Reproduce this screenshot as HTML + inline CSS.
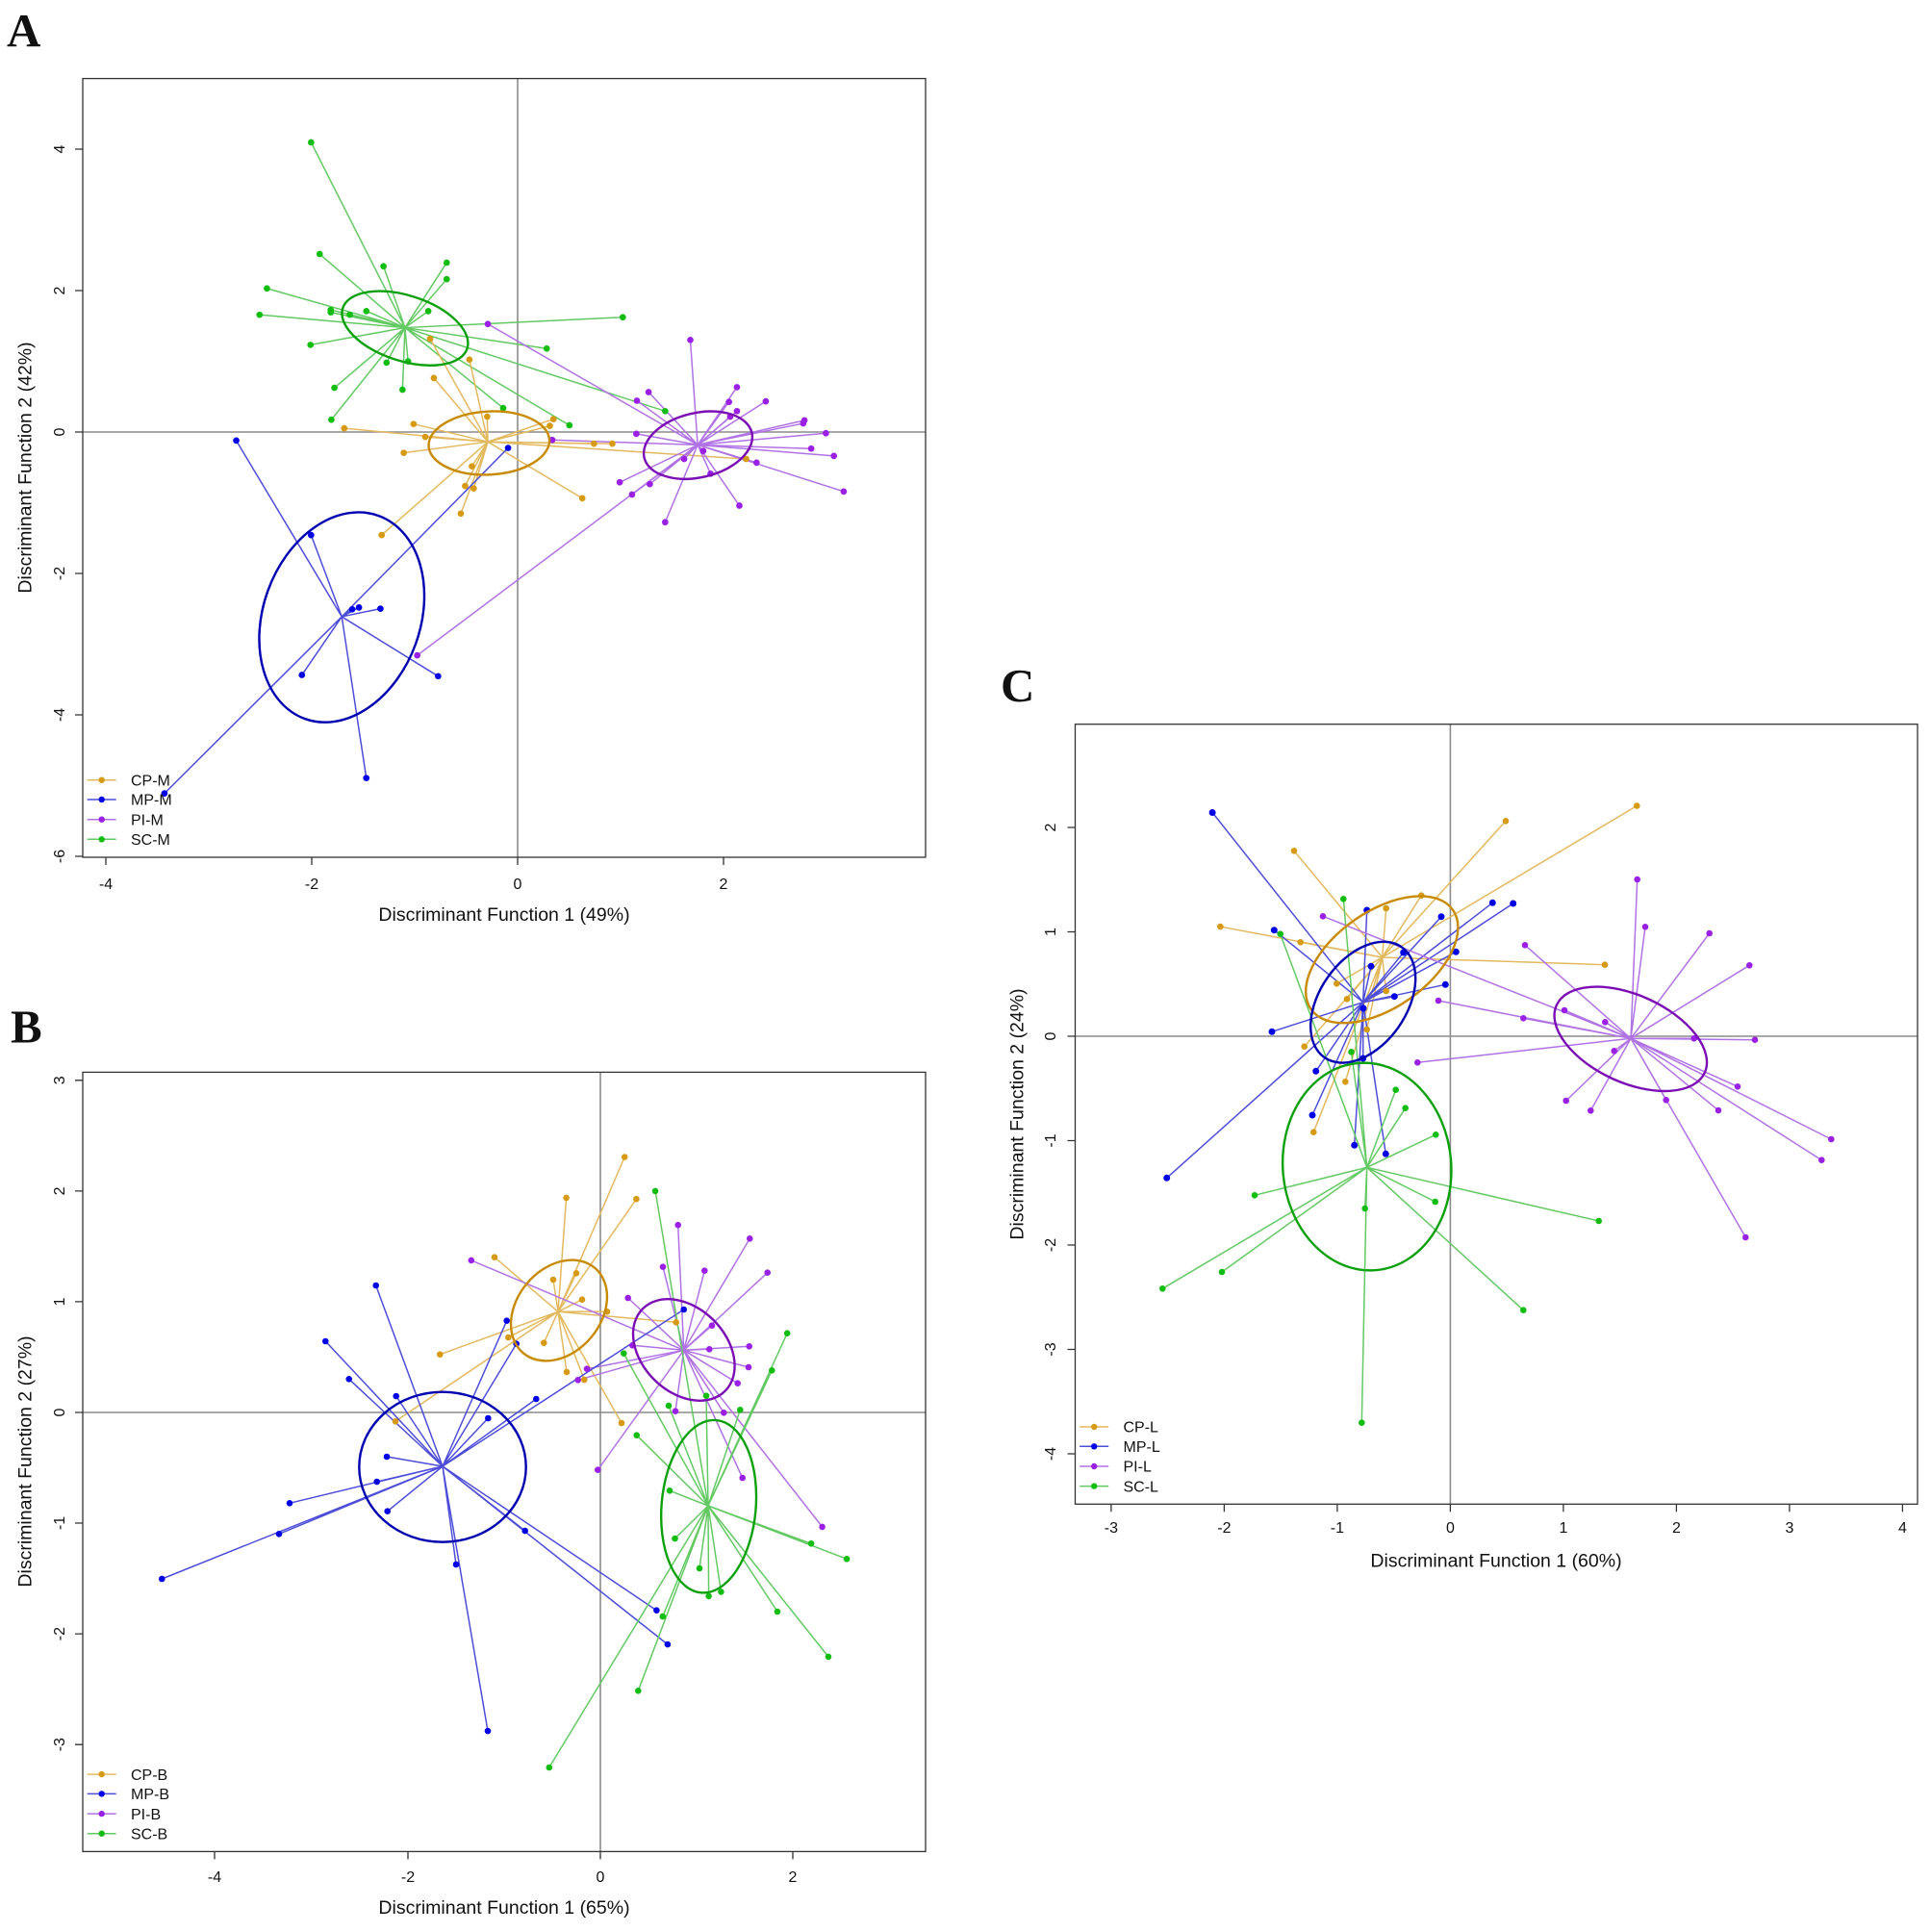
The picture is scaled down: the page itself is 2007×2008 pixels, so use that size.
<!DOCTYPE html>
<html><head><meta charset="utf-8"><style>
html,body{margin:0;padding:0;background:#fff;}
svg{display:block;}
text{font-family:"Liberation Sans",Arial,sans-serif;fill:#111;}
.pl{font-family:"Liberation Serif","Times New Roman",serif;font-weight:bold;font-size:49px;}
.tk{font-size:16px;}
.ti{font-size:19.5px;}
.lg{font-size:16px;}
</style></head><body>
<svg width="2007" height="2008" viewBox="0 0 2007 2008" xmlns="http://www.w3.org/2000/svg">
<rect width="2007" height="2008" fill="#fff"/>

<!-- ================= PANEL A ================= -->
<text class="pl" x="7" y="48">A</text>
<line x1="538" y1="81.6" x2="538" y2="891" stroke="#8c8c8c" stroke-width="1.6"/>
<line x1="86" y1="449" x2="962" y2="449" stroke="#8c8c8c" stroke-width="1.6"/>
<g transform="scale(0.637755)" fill="none">
<path stroke="#63c963" stroke-width="2.35" d="M660 534L507 232M660 534L521 414M660 534L625 434M660 534L728 428M660 534L728 455M660 534L435 470M660 534L423 513M660 534L539 505M660 534L539 509M660 534L570 513M660 534L597 507M660 534L698 507M660 534L1015 517M660 534L506 562M660 534L630 591M660 534L665 589M660 534L891 568M660 534L545 632M660 534L656 635M660 534L820 665M660 534L540 684M660 534L928 693M660 534L1084 670"/>
<path stroke="#e3b95f" stroke-width="2.35" d="M795 720L701 552M795 720L765 586M795 720L707 616M795 720L794 679M795 720L674 691M795 720L561 698M795 720L693 712M795 720L658 738M795 720L902 683M795 720L896 694M795 720L968 723M795 720L998 723M795 720L769 760M795 720L758 792M795 720L772 796M795 720L751 837M795 720L949 812M795 720L622 872M795 720L1216 748"/>
<path stroke="#4d4dd8" stroke-width="2.35" d="M557 1005L385 718M557 1005L507 872M557 1005L574 993M557 1005L585 990M557 1005L620 992M557 1005L492 1100M557 1005L714 1102M557 1005L597 1268M557 1005L268 1293M557 1005L828 730"/>
<path stroke="#b072e4" stroke-width="2.35" d="M1137 725L795 528M1137 725L680 1068M1137 725L900 717M1137 725L1125 554M1137 725L1201 631M1137 725L1057 639M1137 725L1038 653M1137 725L1188 655M1137 725L1248 654M1137 725L1201 670M1137 725L1190 679M1137 725L1311 685M1137 725L1309 690M1137 725L1346 706M1137 725L1037 707M1137 725L1322 731M1137 725L1359 743M1137 725L1146 735M1137 725L1115 748M1137 725L1233 754M1137 725L1158 772M1137 725L1010 786M1137 725L1059 789M1137 725L1030 806M1137 725L1375 801M1137 725L1205 824M1137 725L1084 851"/>
<path stroke="#12bd12" stroke-width="10.5" stroke-linecap="round" d="M507 232h0M521 414h0M625 434h0M728 428h0M728 455h0M435 470h0M423 513h0M539 505h0M539 509h0M570 513h0M597 507h0M698 507h0M1015 517h0M506 562h0M630 591h0M665 589h0M891 568h0M545 632h0M656 635h0M820 665h0M540 684h0M928 693h0M1084 670h0"/>
<path stroke="#d69a14" stroke-width="10.5" stroke-linecap="round" d="M701 552h0M765 586h0M707 616h0M794 679h0M674 691h0M561 698h0M693 712h0M658 738h0M902 683h0M896 694h0M968 723h0M998 723h0M769 760h0M758 792h0M772 796h0M751 837h0M949 812h0M622 872h0M1216 748h0"/>
<path stroke="#0000e4" stroke-width="10.5" stroke-linecap="round" d="M385 718h0M507 872h0M574 993h0M585 990h0M620 992h0M492 1100h0M714 1102h0M597 1268h0M268 1293h0M828 730h0"/>
<path stroke="#9a20e6" stroke-width="10.5" stroke-linecap="round" d="M795 528h0M680 1068h0M900 717h0M1125 554h0M1201 631h0M1057 639h0M1038 653h0M1188 655h0M1248 654h0M1201 670h0M1190 679h0M1311 685h0M1309 690h0M1346 706h0M1037 707h0M1322 731h0M1359 743h0M1146 735h0M1115 748h0M1233 754h0M1158 772h0M1010 786h0M1059 789h0M1030 806h0M1375 801h0M1205 824h0M1084 851h0"/>
<ellipse cx="0" cy="0" rx="106.6" ry="53.3" transform="translate(660 535) rotate(18)" stroke="#0ca00c" stroke-width="3.8"/>
<ellipse cx="0" cy="0" rx="98.5" ry="51.5" transform="translate(797 722) rotate(-3)" stroke="#c88a00" stroke-width="3.8"/>
<ellipse cx="0" cy="0" rx="176" ry="128" transform="translate(557 1006) rotate(-70)" stroke="#0000b0" stroke-width="3.8"/>
<ellipse cx="0" cy="0" rx="90" ry="52.5" transform="translate(1137.6 725.5) rotate(-13)" stroke="#7b0db5" stroke-width="3.8"/>
</g>
<rect x="86" y="81.6" width="876" height="809.4" fill="none" stroke="#333" stroke-width="1.3"/>
<path stroke="#333" stroke-width="1.3" d="M110 891V899M324 891V899M538 891V899M752 891V899M78 155H86M78 302H86M78 449H86M78 596H86M78 743H86M78 890H86"/>
<g class="tk" text-anchor="middle">
<text x="110" y="924">-4</text><text x="324" y="924">-2</text><text x="538" y="924">0</text><text x="752" y="924">2</text>
<text transform="translate(67 155) rotate(-90)">4</text>
<text transform="translate(67 302) rotate(-90)">2</text>
<text transform="translate(67 449) rotate(-90)">0</text>
<text transform="translate(67 596) rotate(-90)">-2</text>
<text transform="translate(67 743) rotate(-90)">-4</text>
<text transform="translate(67 890) rotate(-90)">-6</text>
</g>
<text class="ti" x="524" y="957" text-anchor="middle">Discriminant Function 1 (49%)</text>
<text class="ti" text-anchor="middle" transform="translate(32.5 486) rotate(-90)">Discriminant Function 2 (42%)</text>
<g>
<line x1="90.7" y1="810.7" x2="120.7" y2="810.7" stroke="#e3b95f" stroke-width="1.5"/><circle cx="105.7" cy="810.7" r="3.2" fill="#d69a14"/>
<line x1="90.7" y1="831" x2="120.7" y2="831" stroke="#4d4dd8" stroke-width="1.5"/><circle cx="105.7" cy="831" r="3.2" fill="#0000e4"/>
<line x1="90.7" y1="851.7" x2="120.7" y2="851.7" stroke="#b072e4" stroke-width="1.5"/><circle cx="105.7" cy="851.7" r="3.2" fill="#9a20e6"/>
<line x1="90.7" y1="872.3" x2="120.7" y2="872.3" stroke="#63c963" stroke-width="1.5"/><circle cx="105.7" cy="872.3" r="3.2" fill="#12bd12"/>
<text class="lg" x="136" y="816.4">CP-M</text>
<text class="lg" x="136" y="836.7">MP-M</text>
<text class="lg" x="136" y="857.4">PI-M</text>
<text class="lg" x="136" y="878">SC-M</text>
</g>

<!-- ================= PANEL B ================= -->
<text class="pl" x="11" y="1083.5">B</text>
<line x1="624" y1="1114.4" x2="624" y2="1924.4" stroke="#8c8c8c" stroke-width="1.6"/>
<line x1="86" y1="1468" x2="962" y2="1468" stroke="#8c8c8c" stroke-width="1.6"/>
<g fill="none">
<path stroke="#e3b95f" stroke-width="1.5" d="M580 1363.3L514 1306.7M580 1363.3L575 1330M580 1363.3L599 1323.3M580 1363.3L605 1350.7M580 1363.3L631 1363.3M580 1363.3L702.7 1374.3M580 1363.3L528.3 1390M580 1363.3L565.3 1395.7M580 1363.3L589 1426M580 1363.3L607.3 1434M580 1363.3L646 1479M580 1363.3L457.3 1407.7M580 1363.3L411 1477.3M580 1363.3L649.2 1202.5M580 1363.3L588.6 1244.9M580 1363.3L661.4 1246.2"/>
<path stroke="#b072e4" stroke-width="1.5" d="M710.7 1403.3L779.3 1287.3M710.7 1403.3L689 1316.7M710.7 1403.3L732.3 1320.7M710.7 1403.3L797.7 1322.7M710.7 1403.3L652.7 1349M710.7 1403.3L740 1377.7M710.7 1403.3L737.3 1402.3M710.7 1403.3L778.7 1399.3M710.7 1403.3L778 1421M710.7 1403.3L766.7 1437.7M710.7 1403.3L657.3 1398.3M710.7 1403.3L610 1422.7M710.7 1403.3L600.7 1434.3M710.7 1403.3L702 1466.7M710.7 1403.3L752.3 1468.3M710.7 1403.3L771.7 1536M710.7 1403.3L621.3 1527.7M710.7 1403.3L489.8 1309.9M710.7 1403.3L704.7 1273.2M710.7 1403.3L854.6 1586.9"/>
<path stroke="#4d4dd8" stroke-width="1.5" d="M460 1524L390.7 1336M460 1524L338.3 1394M460 1524L362.7 1433.3M460 1524L411.7 1451M460 1524L526.7 1372.7M460 1524L536.7 1396.7M460 1524L507.3 1474M460 1524L557.3 1454M460 1524L402 1514M460 1524L391.7 1540M460 1524L301 1562.3M460 1524L290 1594.3M460 1524L168.3 1641M460 1524L402.7 1570.7M460 1524L474 1626M460 1524L545.7 1591M460 1524L710.7 1361M460 1524L507 1799.1M460 1524L682.4 1673.7M460 1524L693.9 1709.1"/>
<path stroke="#63c963" stroke-width="1.5" d="M736 1565L648.3 1406.7M736 1565L734 1450.7M736 1565L695 1461M736 1565L769.3 1465.3M736 1565L661.7 1491.7M736 1565L696 1549.3M736 1565L681.1 1237.9M736 1565L818.2 1385.7M736 1565L802.3 1424.3M736 1565L701.5 1599.1M736 1565L843.1 1604.3M736 1565L880.1 1620.3M736 1565L727 1630M736 1565L736.6 1658.9M736 1565L749.4 1654.4M736 1565L808 1675M736 1565L688.8 1680.1M736 1565L861 1721.9M736 1565L663.3 1757.3M736 1565L570.8 1837"/>
<path stroke="#d69a14" stroke-width="6.6" stroke-linecap="round" d="M514 1306.7h0M575 1330h0M599 1323.3h0M605 1350.7h0M631 1363.3h0M702.7 1374.3h0M528.3 1390h0M565.3 1395.7h0M589 1426h0M607.3 1434h0M646 1479h0M457.3 1407.7h0M411 1477.3h0M649.2 1202.5h0M588.6 1244.9h0M661.4 1246.2h0"/>
<path stroke="#9a20e6" stroke-width="6.6" stroke-linecap="round" d="M779.3 1287.3h0M689 1316.7h0M732.3 1320.7h0M797.7 1322.7h0M652.7 1349h0M740 1377.7h0M737.3 1402.3h0M778.7 1399.3h0M778 1421h0M766.7 1437.7h0M657.3 1398.3h0M610 1422.7h0M600.7 1434.3h0M702 1466.7h0M752.3 1468.3h0M771.7 1536h0M621.3 1527.7h0M489.8 1309.9h0M704.7 1273.2h0M854.6 1586.9h0"/>
<path stroke="#0000e4" stroke-width="6.6" stroke-linecap="round" d="M390.7 1336h0M338.3 1394h0M362.7 1433.3h0M411.7 1451h0M526.7 1372.7h0M536.7 1396.7h0M507.3 1474h0M557.3 1454h0M402 1514h0M391.7 1540h0M301 1562.3h0M290 1594.3h0M168.3 1641h0M402.7 1570.7h0M474 1626h0M545.7 1591h0M710.7 1361h0M507 1799.1h0M682.4 1673.7h0M693.9 1709.1h0"/>
<path stroke="#12bd12" stroke-width="6.6" stroke-linecap="round" d="M648.3 1406.7h0M734 1450.7h0M695 1461h0M769.3 1465.3h0M661.7 1491.7h0M696 1549.3h0M681.1 1237.9h0M818.2 1385.7h0M802.3 1424.3h0M701.5 1599.1h0M843.1 1604.3h0M880.1 1620.3h0M727 1630h0M736.6 1658.9h0M749.4 1654.4h0M808 1675h0M688.8 1680.1h0M861 1721.9h0M663.3 1757.3h0M570.8 1837h0"/>
<ellipse cx="0" cy="0" rx="57.8" ry="43.6" transform="translate(581 1362) rotate(-50)" stroke="#c88a00" stroke-width="2.4"/>
<ellipse cx="0" cy="0" rx="60.5" ry="43.7" transform="translate(710.8 1403) rotate(45)" stroke="#7b0db5" stroke-width="2.4"/>
<ellipse cx="460" cy="1524.7" rx="86.7" ry="78" stroke="#0000b0" stroke-width="2.4"/>
<ellipse cx="0" cy="0" rx="49" ry="90" transform="translate(736.6 1565.7) rotate(5)" stroke="#0ca00c" stroke-width="2.4"/>
</g>
<rect x="86" y="1114.4" width="876" height="810" fill="none" stroke="#333" stroke-width="1.3"/>
<path stroke="#333" stroke-width="1.3" d="M223 1924.4V1932.4M424 1924.4V1932.4M624 1924.4V1932.4M824 1924.4V1932.4M78 1122.8H86M78 1237.9H86M78 1352.9H86M78 1468H86M78 1583H86M78 1698.1H86M78 1813.2H86"/>
<g class="tk" text-anchor="middle">
<text x="223" y="1956">-4</text><text x="424" y="1956">-2</text><text x="624" y="1956">0</text><text x="824" y="1956">2</text>
<text transform="translate(67 1122.8) rotate(-90)">3</text>
<text transform="translate(67 1237.9) rotate(-90)">2</text>
<text transform="translate(67 1352.9) rotate(-90)">1</text>
<text transform="translate(67 1468) rotate(-90)">0</text>
<text transform="translate(67 1583) rotate(-90)">-1</text>
<text transform="translate(67 1698.1) rotate(-90)">-2</text>
<text transform="translate(67 1813.2) rotate(-90)">-3</text>
</g>
<text class="ti" x="524" y="1989" text-anchor="middle">Discriminant Function 1 (65%)</text>
<text class="ti" text-anchor="middle" transform="translate(32.5 1519) rotate(-90)">Discriminant Function 2 (27%)</text>
<g>
<line x1="90.7" y1="1844.1" x2="120.7" y2="1844.1" stroke="#e3b95f" stroke-width="1.5"/><circle cx="105.7" cy="1844.1" r="3.2" fill="#d69a14"/>
<line x1="90.7" y1="1864.4" x2="120.7" y2="1864.4" stroke="#4d4dd8" stroke-width="1.5"/><circle cx="105.7" cy="1864.4" r="3.2" fill="#0000e4"/>
<line x1="90.7" y1="1885.1" x2="120.7" y2="1885.1" stroke="#b072e4" stroke-width="1.5"/><circle cx="105.7" cy="1885.1" r="3.2" fill="#9a20e6"/>
<line x1="90.7" y1="1905.7" x2="120.7" y2="1905.7" stroke="#63c963" stroke-width="1.5"/><circle cx="105.7" cy="1905.7" r="3.2" fill="#12bd12"/>
<text class="lg" x="136" y="1849.8">CP-B</text>
<text class="lg" x="136" y="1870.1">MP-B</text>
<text class="lg" x="136" y="1890.8">PI-B</text>
<text class="lg" x="136" y="1911.4">SC-B</text>
</g>

<!-- ================= PANEL C ================= -->
<text class="pl" x="1040" y="729">C</text>
<line x1="1507.4" y1="752.7" x2="1507.4" y2="1563.3" stroke="#8c8c8c" stroke-width="1.6"/>
<line x1="1117.5" y1="1077" x2="1993" y2="1077" stroke="#8c8c8c" stroke-width="1.6"/>
<g fill="none">
<path stroke="#e3b95f" stroke-width="1.5" d="M1436.7 995L1565 853.3M1436.7 995L1345 884.3M1436.7 995L1477.3 930.7M1436.7 995L1440.7 944M1436.7 995L1351.7 979.3M1436.7 995L1389.3 1022.3M1436.7 995L1400 1038.3M1436.7 995L1440.7 1030M1436.7 995L1420.7 1070M1436.7 995L1355.7 1087.7M1436.7 995L1701.3 837.5M1436.7 995L1268.4 963.1M1436.7 995L1668 1002.7M1436.7 995L1398.3 1124.3M1436.7 995L1365.3 1176.7"/>
<path stroke="#4d4dd8" stroke-width="1.5" d="M1416.7 1041.7L1260.1 844.5M1416.7 1041.7L1420.7 946M1416.7 1041.7L1498 952.7M1416.7 1041.7L1551.3 938.3M1416.7 1041.7L1572.7 939M1416.7 1041.7L1324.3 966.7M1416.7 1041.7L1458.7 990M1416.7 1041.7L1513.3 989.3M1416.7 1041.7L1425 1004.3M1416.7 1041.7L1502.3 1023.3M1416.7 1041.7L1449.3 1035.7M1416.7 1041.7L1322 1072.3M1416.7 1041.7L1416.7 1100M1416.7 1041.7L1367.7 1113.3M1416.7 1041.7L1364 1159M1416.7 1041.7L1407.7 1190.3M1416.7 1041.7L1440.3 1199.3M1416.7 1041.7L1212.7 1224.3"/>
<path stroke="#63c963" stroke-width="1.5" d="M1420.7 1213.3L1396.3 934.3M1420.7 1213.3L1330.7 970.7M1420.7 1213.3L1404.5 1093.3M1420.7 1213.3L1450.7 1132.7M1420.7 1213.3L1460.7 1151.7M1420.7 1213.3L1492.3 1179.3M1420.7 1213.3L1304 1242.3M1420.7 1213.3L1418.7 1256M1420.7 1213.3L1491.7 1249M1420.7 1213.3L1661.7 1269M1420.7 1213.3L1270 1322M1420.7 1213.3L1208.3 1339.3M1420.7 1213.3L1583.3 1361.7M1420.7 1213.3L1415.3 1478.7"/>
<path stroke="#b072e4" stroke-width="1.5" d="M1695 1079.3L1701.7 914M1695 1079.3L1710 963.3M1695 1079.3L1776.7 970M1695 1079.3L1818.3 1003.3M1695 1079.3L1585 982.3M1695 1079.3L1495 1040M1695 1079.3L1583.3 1058.3M1695 1079.3L1626 1050M1695 1079.3L1668.3 1062.3M1695 1079.3L1760.7 1079.3M1695 1079.3L1824 1080.7M1695 1079.3L1473.3 1104.3M1695 1079.3L1677.7 1092.3M1695 1079.3L1806 1129.3M1695 1079.3L1627.7 1144M1695 1079.3L1653.3 1154.3M1695 1079.3L1731.7 1143.3M1695 1079.3L1786 1154M1695 1079.3L1903.3 1184M1695 1079.3L1893.3 1205.7M1695 1079.3L1814.3 1286M1695 1079.3L1375 952.3"/>
<path stroke="#d69a14" stroke-width="6.6" stroke-linecap="round" d="M1565 853.3h0M1345 884.3h0M1477.3 930.7h0M1440.7 944h0M1351.7 979.3h0M1389.3 1022.3h0M1400 1038.3h0M1440.7 1030h0M1420.7 1070h0M1355.7 1087.7h0M1701.3 837.5h0M1268.4 963.1h0M1668 1002.7h0M1398.3 1124.3h0M1365.3 1176.7h0"/>
<path stroke="#0000e4" stroke-width="7" stroke-linecap="round" d="M1260.1 844.5h0M1420.7 946h0M1498 952.7h0M1551.3 938.3h0M1572.7 939h0M1324.3 966.7h0M1458.7 990h0M1513.3 989.3h0M1425 1004.3h0M1502.3 1023.3h0M1449.3 1035.7h0M1322 1072.3h0M1416.7 1100h0M1367.7 1113.3h0M1364 1159h0M1407.7 1190.3h0M1440.3 1199.3h0M1212.7 1224.3h0M1417 1048h0"/>
<path stroke="#12bd12" stroke-width="6.6" stroke-linecap="round" d="M1396.3 934.3h0M1330.7 970.7h0M1404.5 1093.3h0M1450.7 1132.7h0M1460.7 1151.7h0M1492.3 1179.3h0M1304 1242.3h0M1418.7 1256h0M1491.7 1249h0M1661.7 1269h0M1270 1322h0M1208.3 1339.3h0M1583.3 1361.7h0M1415.3 1478.7h0"/>
<path stroke="#9a20e6" stroke-width="6.6" stroke-linecap="round" d="M1701.7 914h0M1710 963.3h0M1776.7 970h0M1818.3 1003.3h0M1585 982.3h0M1495 1040h0M1583.3 1058.3h0M1626 1050h0M1668.3 1062.3h0M1760.7 1079.3h0M1824 1080.7h0M1473.3 1104.3h0M1677.7 1092.3h0M1806 1129.3h0M1627.7 1144h0M1653.3 1154.3h0M1731.7 1143.3h0M1786 1154h0M1903.3 1184h0M1893.3 1205.7h0M1814.3 1286h0M1375 952.3h0"/>
<ellipse cx="0" cy="0" rx="90" ry="50" transform="translate(1436.3 997.3) rotate(-35)" stroke="#c88a00" stroke-width="2.4"/>
<ellipse cx="0" cy="0" rx="70" ry="45" transform="translate(1416.7 1041.7) rotate(-55)" stroke="#0000b0" stroke-width="2.4"/>
<ellipse cx="0" cy="0" rx="87.5" ry="108" transform="translate(1420.8 1212.5) rotate(-5)" stroke="#0ca00c" stroke-width="2.4"/>
<ellipse cx="0" cy="0" rx="84.6" ry="45.4" transform="translate(1694.8 1079.8) rotate(24.5)" stroke="#7b0db5" stroke-width="2.4"/>
</g>
<rect x="1117.5" y="752.7" width="875.5" height="810.6" fill="none" stroke="#333" stroke-width="1.3"/>
<path stroke="#333" stroke-width="1.3" d="M1154.9 1563.3V1571.3M1272.4 1563.3V1571.3M1389.9 1563.3V1571.3M1507.4 1563.3V1571.3M1624.9 1563.3V1571.3M1742.4 1563.3V1571.3M1859.9 1563.3V1571.3M1977.4 1563.3V1571.3M1109.5 860H1117.5M1109.5 968.5H1117.5M1109.5 1077H1117.5M1109.5 1185.5H1117.5M1109.5 1294H1117.5M1109.5 1402.5H1117.5M1109.5 1511H1117.5"/>
<g class="tk" text-anchor="middle">
<text x="1154.9" y="1593">-3</text><text x="1272.4" y="1593">-2</text><text x="1389.9" y="1593">-1</text><text x="1507.4" y="1593">0</text><text x="1624.9" y="1593">1</text><text x="1742.4" y="1593">2</text><text x="1859.9" y="1593">3</text><text x="1977.4" y="1593">4</text>
<text transform="translate(1097 860) rotate(-90)">2</text>
<text transform="translate(1097 968.5) rotate(-90)">1</text>
<text transform="translate(1097 1077) rotate(-90)">0</text>
<text transform="translate(1097 1185.5) rotate(-90)">-1</text>
<text transform="translate(1097 1294) rotate(-90)">-2</text>
<text transform="translate(1097 1402.5) rotate(-90)">-3</text>
<text transform="translate(1097 1511) rotate(-90)">-4</text>
</g>
<text class="ti" x="1555" y="1628.3" text-anchor="middle">Discriminant Function 1 (60%)</text>
<text class="ti" text-anchor="middle" transform="translate(1063.5 1158) rotate(-90)">Discriminant Function 2 (24%)</text>
<g>
<line x1="1122.2" y1="1483" x2="1152.2" y2="1483" stroke="#e3b95f" stroke-width="1.5"/><circle cx="1137.2" cy="1483" r="3.2" fill="#d69a14"/>
<line x1="1122.2" y1="1503.3" x2="1152.2" y2="1503.3" stroke="#4d4dd8" stroke-width="1.5"/><circle cx="1137.2" cy="1503.3" r="3.2" fill="#0000e4"/>
<line x1="1122.2" y1="1524" x2="1152.2" y2="1524" stroke="#b072e4" stroke-width="1.5"/><circle cx="1137.2" cy="1524" r="3.2" fill="#9a20e6"/>
<line x1="1122.2" y1="1544.6" x2="1152.2" y2="1544.6" stroke="#63c963" stroke-width="1.5"/><circle cx="1137.2" cy="1544.6" r="3.2" fill="#12bd12"/>
<text class="lg" x="1167.5" y="1488.7">CP-L</text>
<text class="lg" x="1167.5" y="1509">MP-L</text>
<text class="lg" x="1167.5" y="1529.7">PI-L</text>
<text class="lg" x="1167.5" y="1550.3">SC-L</text>
</g>
</svg>
</body></html>
